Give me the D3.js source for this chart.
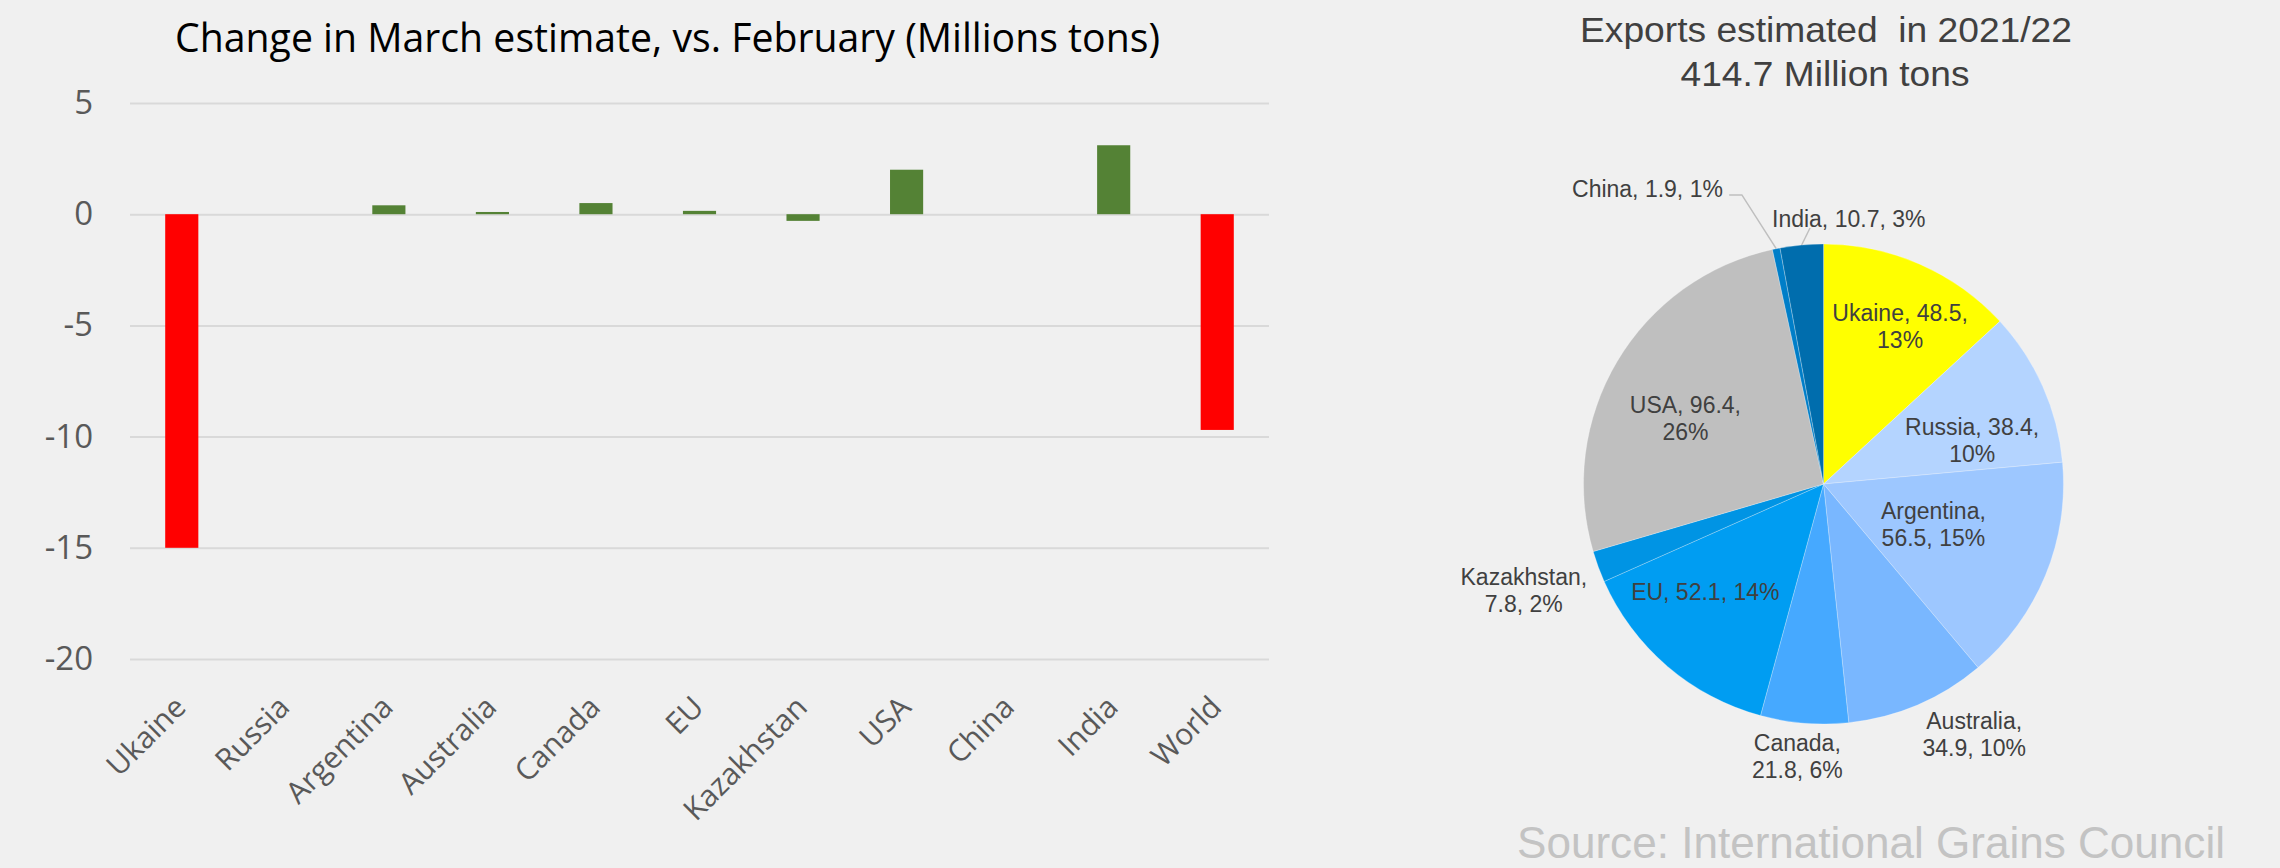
<!DOCTYPE html>
<html>
<head>
<meta charset="utf-8">
<script src="https://cdn.jsdelivr.net/npm/d3@7"></script>
<style>
  html, body { margin: 0; padding: 0; background: #f0f0f0; }
  svg { display: block; }
</style>
</head>
<body>
<script>
// ---- Change in March estimate vs. February (million tons) ----
const categories = ["Ukaine", "Russia", "Argentina", "Australia", "Canada", "EU", "Kazakhstan", "USA", "China", "India", "World"];
const changes = [-15.0, 0, 0.4, 0.1, 0.5, 0.15, -0.3, 2.0, 0, 3.1, -9.7];
const highlighted = ["Ukaine", "World"];
const yTicks = [5, 0, -5, -10, -15, -20];

// ---- Exports estimated in 2021/22 (million tons) ----
const pieCategories = ["Ukaine", "Russia", "Argentina", "Australia", "Canada", "EU", "Kazakhstan", "USA", "China", "India"];
const exportsMt = [48.5, 38.4, 56.5, 34.9, 21.8, 52.1, 7.8, 96.4, 1.9, 10.7];
const sharePct = [13, 10, 15, 10, 6, 14, 2, 26, 1, 3];
const totalExports = "414.7";

const W = 2280, H = 868;
const svg = d3.select("body").append("svg").attr("width", W).attr("height", H);
svg.append("rect").attr("width", W).attr("height", H).attr("fill", "#f0f0f0");

// ================= Bar chart =================
const plot = { left: 130, right: 1269, top: 103, bottom: 659 };

const x = d3.scaleBand()
  .domain(categories)
  .range([plot.left, plot.right])
  .paddingInner(0.68)
  .paddingOuter(0.34);

const y = d3.scaleLinear().domain([-20, 5]).range([plot.bottom, plot.top]);

svg.append("text")
  .attr("x", 175).attr("y", 52)
  .attr("textLength", 985).attr("lengthAdjust", "spacingAndGlyphs")
  .attr("font-family", "'Open Sans', sans-serif")
  .attr("font-size", 40)
  .attr("fill", "#000")
  .text("Change in March estimate, vs. February (Millions tons)");

// y axis with gridlines
const yAxis = svg.append("g")
  .attr("transform", `translate(${plot.left},0)`)
  .call(d3.axisLeft(y)
    .tickValues(yTicks)
    .tickSize(-(plot.right - plot.left))
    .tickPadding(37)
    .tickFormat(d => String(d)));
yAxis.select(".domain").remove();
yAxis.selectAll(".tick line").attr("stroke", "#d9d9d9").attr("stroke-width", 2);
yAxis.selectAll(".tick text")
  .attr("font-family", "'Open Sans', sans-serif")
  .attr("font-size", 33)
  .attr("fill", "#595959");

// bars
svg.append("g").selectAll("rect")
  .data(categories.map((c, i) => ({ c, v: changes[i] })))
  .join("rect")
  .attr("x", d => x(d.c))
  .attr("width", x.bandwidth())
  .attr("y", d => y(Math.max(0, d.v)))
  .attr("height", d => Math.abs(y(d.v) - y(0)))
  .attr("fill", d => highlighted.includes(d.c) ? "#ff0000" : "#548235");

// category labels
const xAxis = svg.append("g")
  .attr("transform", `translate(0,${plot.bottom})`)
  .call(d3.axisBottom(x).tickSize(0));
xAxis.select(".domain").remove();
xAxis.selectAll(".tick text")
  .attr("x", 0).attr("y", 0).attr("dy", 0)
  .attr("transform", "translate(6,50) rotate(-45)")
  .attr("text-anchor", "end")
  .attr("font-family", "'Open Sans', sans-serif")
  .attr("font-size", 30)
  .attr("fill", "#595959");

// ================= Pie chart =================
const pc = { x: 1823.5, y: 484 };
const R = 240;
const pieColors = ["#ffff00", "#b4d4ff", "#9dc7ff", "#79b7ff", "#46a9ff", "#009df2", "#0094e4", "#bfbfbf", "#007ec8", "#006dad"];
const labelFont = "'Liberation Sans', Arial, sans-serif";
const labelColor = "#404040";

const titleG = svg.append("g")
  .attr("font-family", labelFont)
  .attr("fill", labelColor)
  .attr("text-anchor", "middle")
  .attr("font-size", 35);
titleG.append("text")
  .attr("x", 1826).attr("y", 42)
  .attr("textLength", 492).attr("lengthAdjust", "spacingAndGlyphs")
  .style("white-space", "pre")
  .text("Exports estimated  in 2021/22");
titleG.append("text")
  .attr("x", 1825).attr("y", 86)
  .attr("textLength", 289).attr("lengthAdjust", "spacingAndGlyphs")
  .text(`${totalExports} Million tons`);

const pie = d3.pie().sort(null).value(d => d.v);
const arcs = pie(pieCategories.map((c, i) => ({ c, v: exportsMt[i], p: sharePct[i] })));
const arc = d3.arc().innerRadius(0).outerRadius(R);

const pieG = svg.append("g").attr("transform", `translate(${pc.x},${pc.y})`);
pieG.selectAll("path")
  .data(arcs)
  .join("path")
  .attr("d", arc)
  .attr("fill", (d, i) => pieColors[i])
  .attr("stroke", "rgba(255,255,255,0.35)")
  .attr("stroke-width", 0.75);

// label placement: distance from centre, angular nudge (deg), where the line breaks
const placement = {
  Ukaine:     { r: 175, shift: 2.3,  brk: "value" },
  Russia:     { r: 155, shift: 7.5,  brk: "value" },
  Argentina:  { r: 117, shift: -2.3, brk: "name" },
  Australia:  { r: 292, shift: -8,   brk: "name" },
  Canada:     { r: 274, shift: 0.9,  brk: "name" },
  EU:         { r: 160, shift: 7,    brk: "none" },
  Kazakhstan: { r: 318, shift: 0.6,  brk: "name" },
  USA:        { r: 153, shift: -5.2, brk: "value" },
  China:      { r: 300.4, shift: -4.4, brk: "leaderLeft" },
  India:      { r: 256.4, shift: 2.2,  brk: "leaderRight" }
};

const fmt = d3.format(".1f");
const midDeg = d => ((d.startAngle + d.endAngle) / 2) * 180 / Math.PI;
const polar = (r, deg) => {
  const a = deg * Math.PI / 180;
  return [r * Math.sin(a), -r * Math.cos(a)];
};

const fontSize = 23, lineH = 27, capH = 0.716 * 23;
const labels = pieG.append("g")
  .attr("font-family", labelFont)
  .attr("font-size", fontSize)
  .attr("fill", labelColor);

arcs.forEach(d => {
  const c = d.data.c, v = fmt(d.data.v), p = d.data.p + "%";
  const pl = placement[c];
  const mid = midDeg(d);
  const [px, py] = polar(pl.r, mid + pl.shift);

  if (pl.brk === "leaderLeft" || pl.brk === "leaderRight") {
    const [ex, ey] = polar(R, mid);
    let pts;
    const t = labels.append("text").text(`${c}, ${v}, ${p}`);
    if (pl.brk === "leaderLeft") {
      pts = [[ex, ey], [px, py], [px - 12.7, py]];
      t.attr("x", px - 19).attr("y", py + 1.7).attr("text-anchor", "end");
    } else {
      pts = [[ex, ey], [px, py]];
      t.attr("x", px - 38).attr("y", py - 1.3).attr("text-anchor", "start");
    }
    pieG.append("path")
      .attr("d", d3.line()(pts))
      .attr("fill", "none")
      .attr("stroke", "#bfbfbf")
      .attr("stroke-width", 1.5);
    return;
  }

  let lines;
  if (pl.brk === "value") lines = [`${c}, ${v},`, p];
  else if (pl.brk === "name") lines = [`${c},`, `${v}, ${p}`];
  else lines = [`${c}, ${v}, ${p}`];

  const first = py - (lines.length - 1) * lineH / 2 + capH / 2;
  const t = labels.append("text").attr("text-anchor", "middle");
  lines.forEach((ln, k) => {
    t.append("tspan").attr("x", px).attr("y", first + k * lineH).text(ln);
  });
});

// source note
svg.append("text")
  .attr("x", 1517).attr("y", 858)
  .attr("textLength", 708).attr("lengthAdjust", "spacingAndGlyphs")
  .attr("font-family", labelFont)
  .attr("font-size", 44)
  .attr("fill", "#c3c3c3")
  .text("Source: International Grains Council");
</script>
</body>
</html>
